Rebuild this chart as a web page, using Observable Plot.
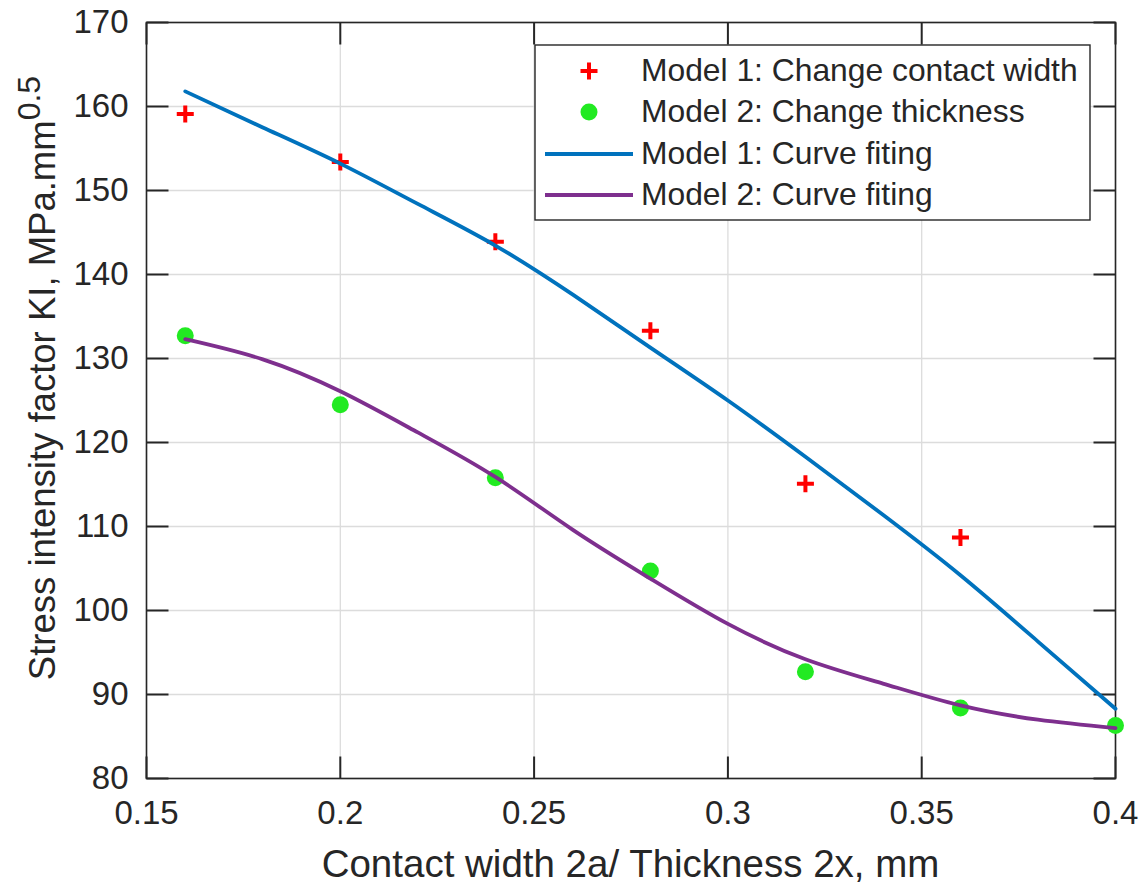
<!DOCTYPE html>
<html>
<head>
<meta charset="utf-8">
<script src="https://cdn.jsdelivr.net/npm/d3@7"></script>
<script src="https://cdn.jsdelivr.net/npm/@observablehq/plot@0.6"></script>
<style>
  html, body { margin: 0; padding: 0; background: #ffffff; overflow: hidden; }
  #chart { width: 1142px; height: 886px; }
</style>
</head>
<body>
<div id="chart"></div>
<script>
// ---- data ----
const model1X = [0.16, 0.20, 0.24, 0.28, 0.32, 0.36];
const model1K = [159.1, 153.4, 143.9, 133.3, 115.1, 108.7];

const model2X = [0.16, 0.20, 0.24, 0.28, 0.32, 0.36, 0.40];
const model2K = [132.7, 124.5, 115.8, 104.7, 92.7, 88.4, 86.3];

const fitX = [0.16, 0.18, 0.20, 0.22, 0.24, 0.26, 0.28, 0.30, 0.32, 0.34, 0.36, 0.38, 0.40];
const fit1K = [161.8, 157.5, 153.2, 148.4, 143.45, 137.6, 131.3, 125.0, 118.3, 111.4, 104.2, 96.3, 88.3];
const fit2K = [132.3, 129.9, 126.1, 121.2, 115.9, 109.6, 103.8, 98.4, 94.2, 91.3, 88.7, 87.0, 86.0];

const xDomain = [0.15, 0.4];
const yDomain = [80, 170];
const xTicks = [0.15, 0.2, 0.25, 0.3, 0.35, 0.4];
const yTicks = [80, 90, 100, 110, 120, 130, 140, 150, 160, 170];

const legendLabels = [
  "Model 1: Change contact width",
  "Model 2: Change thickness",
  "Model 1: Curve fiting",
  "Model 2: Curve fiting"
];
const xLabel = "Contact width 2a/ Thickness 2x, mm";
const yLabelMain = "Stress intensity factor KI, MPa.mm";
const yLabelSup = "0.5";

// ---- build tables ----
const pts1 = model1X.map((x, i) => ({x, k: model1K[i]}));
const pts2 = model2X.map((x, i) => ({x, k: model2K[i]}));
const fit1 = fitX.map((x, i) => ({x, k: fit1K[i]}));
const fit2 = fitX.map((x, i) => ({x, k: fit2K[i]}));

// ---- styles ----
const W = 1142, H = 886;
const mL = 146, mR = 27, mT = 22, mB = 108;
const plotW = W - mL - mR, plotH = H - mT - mB;
const tickLen = 22;
// tick length expressed in data units of each scale
const tdx = tickLen * (xDomain[1] - xDomain[0]) / plotW;
const tdy = tickLen * (yDomain[1] - yDomain[0]) / plotH;
const axisColor = "#262626";
const gridColor = "#dcdcdc";
const red = "#ff0000", green = "#22ea22", blue = "#0072BD", purple = "#7E2F8E";
const font = "'Liberation Sans', Arial, Helvetica, sans-serif";

// stroked plus symbol (MATLAB '+')
const plusSymbol = {
  draw(context, size) {
    const r = Math.sqrt(size / Math.PI);
    context.moveTo(-r, 0); context.lineTo(r, 0);
    context.moveTo(0, -r); context.lineTo(0, r);
  }
};

const tickStyle = {stroke: axisColor, strokeWidth: 2};

const chart = Plot.plot({
  width: W, height: H,
  marginLeft: mL, marginRight: mR, marginTop: mT, marginBottom: mB,
  style: {fontFamily: font, fontSize: "33px", color: axisColor, background: "#ffffff"},
  x: {domain: xDomain, label: null},
  y: {domain: yDomain, label: null},
  marks: [
    Plot.gridX(xTicks, {stroke: gridColor, strokeOpacity: 1, strokeWidth: 1.3}),
    Plot.gridY(yTicks, {stroke: gridColor, strokeOpacity: 1, strokeWidth: 1.3}),
    // inward tick marks on all four sides (MATLAB box style)
    Plot.link(xTicks, {x1: d => d, x2: d => d, y1: () => yDomain[0], y2: () => yDomain[0] + tdy, ...tickStyle}),
    Plot.link(xTicks, {x1: d => d, x2: d => d, y1: () => yDomain[1], y2: () => yDomain[1] - tdy, ...tickStyle}),
    Plot.link(yTicks, {y1: d => d, y2: d => d, x1: () => xDomain[0], x2: () => xDomain[0] + tdx, ...tickStyle}),
    Plot.link(yTicks, {y1: d => d, y2: d => d, x1: () => xDomain[1], x2: () => xDomain[1] - tdx, ...tickStyle}),
    Plot.frame({stroke: axisColor, strokeWidth: 1.6}),
    // markers
    Plot.dot(pts1, {x: "x", y: "k", symbol: plusSymbol, r: 8.5, stroke: red, strokeWidth: 4, fill: "none"}),
    Plot.dot(pts2, {x: "x", y: "k", r: 8.5, fill: green, stroke: "none"}),
    // fitted curves
    Plot.line(fit1, {x: "x", y: "k", stroke: blue, strokeWidth: 3.8, curve: "natural"}),
    Plot.line(fit2, {x: "x", y: "k", stroke: purple, strokeWidth: 3.8, curve: "natural"}),
    // tick labels
    Plot.axisX(xTicks, {tickSize: 0, tickPadding: 22, label: null, fill: axisColor, tickFormat: d => String(d)}),
    Plot.axisY(yTicks, {tickSize: 0, tickPadding: 18, label: null, fill: axisColor, tickFormat: d => String(d)})
  ]
});

document.getElementById("chart").appendChild(chart);

const svg = d3.select(chart);

// x-axis label
svg.append("text")
  .attr("x", mL + plotW / 2)
  .attr("y", 877)
  .attr("text-anchor", "middle")
  .attr("font-family", font)
  .attr("font-size", 38.5)
  .attr("fill", axisColor)
  .text(xLabel);

// y-axis label with superscript
const yl = svg.append("text")
  .attr("transform", "translate(55,378) rotate(-90)")
  .attr("text-anchor", "middle")
  .attr("font-family", font)
  .attr("font-size", 36.5)
  .attr("fill", axisColor);
yl.append("tspan").text(yLabelMain);
yl.append("tspan").attr("dy", -15).attr("font-size", 32).text(yLabelSup);

// legend
const lg = svg.append("g");
lg.append("rect")
  .attr("x", 535).attr("y", 45).attr("width", 555).attr("height", 175)
  .attr("fill", "#ffffff").attr("stroke", axisColor).attr("stroke-width", 1.4);
const rowY = [71, 112, 154, 195];
const mx = 589;
// row 0: red plus
lg.append("path")
  .attr("d", `M${mx - 8.5},${rowY[0]}H${mx + 8.5}M${mx},${rowY[0] - 8.5}V${rowY[0] + 8.5}`)
  .attr("stroke", red).attr("stroke-width", 4).attr("fill", "none");
// row 1: green dot
lg.append("circle").attr("cx", mx).attr("cy", rowY[1]).attr("r", 8.5).attr("fill", green);
// rows 2,3: lines
[[2, blue], [3, purple]].forEach(([i, c]) => {
  lg.append("line").attr("x1", 545).attr("x2", 633).attr("y1", rowY[i]).attr("y2", rowY[i])
    .attr("stroke", c).attr("stroke-width", 3.8);
});
legendLabels.forEach((t, i) => {
  lg.append("text")
    .attr("x", 641).attr("y", rowY[i] + 2)
    .attr("text-anchor", "start")
    .attr("dominant-baseline", "middle")
    .attr("font-family", font).attr("font-size", 31.8)
    .attr("fill", axisColor)
    .text(t);
});
</script>
</body>
</html>
